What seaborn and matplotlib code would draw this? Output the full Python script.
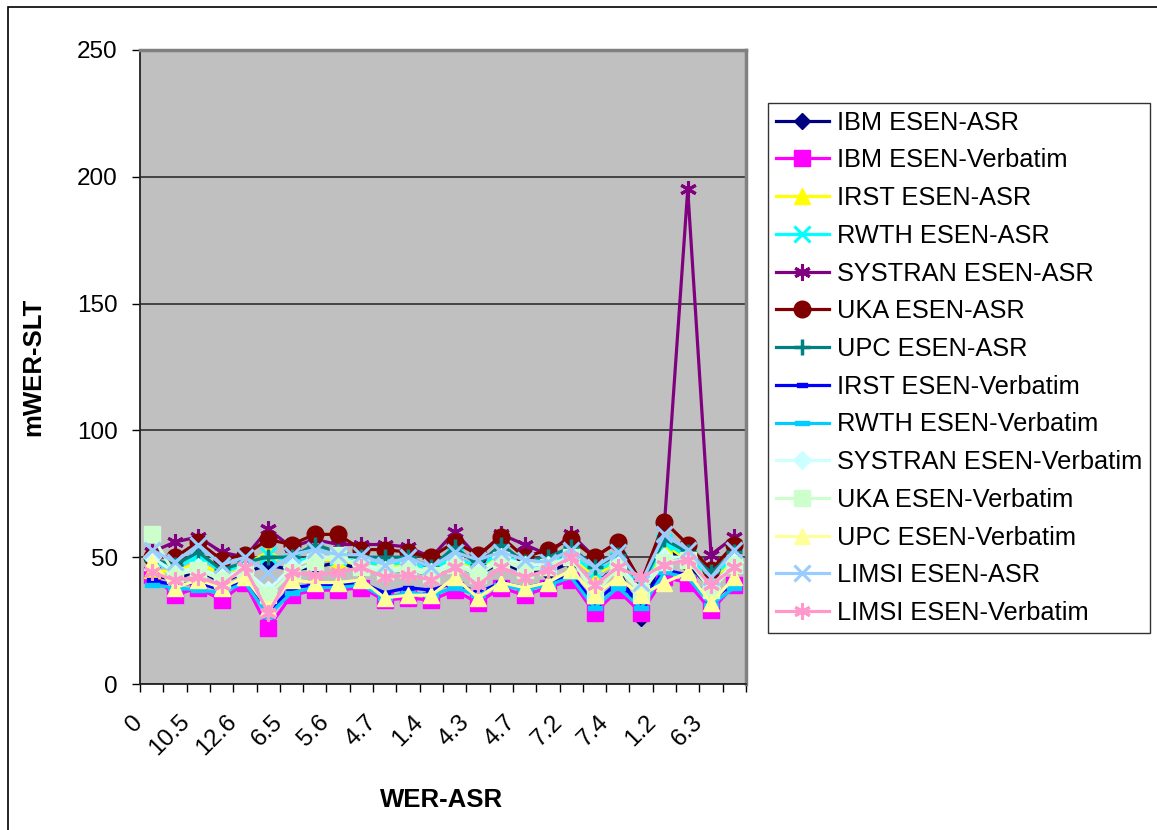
import numpy as np
import pandas as pd
import matplotlib
matplotlib.use("Agg")
import matplotlib.pyplot as plt
import matplotlib.transforms as mtransforms
from matplotlib.path import Path
from matplotlib.patches import Rectangle
import seaborn as sns

plt.rcParams['font.family'] = ['Liberation Sans', 'DejaVu Sans']

# ---------------- data ----------------
tick_labels = ["0", "10.5", "12.6", "6.5", "5.6", "4.7", "1.4", "4.3", "4.7", "7.2", "7.4", "1.2", "6.3"]
n_points = 26

series_names = [
    "IBM ESEN-ASR", "IBM ESEN-Verbatim", "IRST ESEN-ASR", "RWTH ESEN-ASR",
    "SYSTRAN ESEN-ASR", "UKA ESEN-ASR", "UPC ESEN-ASR", "IRST ESEN-Verbatim",
    "RWTH ESEN-Verbatim", "SYSTRAN ESEN-Verbatim", "UKA ESEN-Verbatim",
    "UPC ESEN-Verbatim", "LIMSI ESEN-ASR", "LIMSI ESEN-Verbatim",
]

ibm_asr      = [43, 41, 45, 40, 44, 47, 45, 46, 48, 45, 44, 45, 43, 47, 43, 48, 44, 44, 48, 40, 46, 26, 54, 47, 38, 47]
ibm_verb     = [43, 35, 38, 33, 40, 22, 35, 37, 37, 38, 33, 34, 33, 37, 32, 38, 35, 38, 41, 28, 37, 28, 42, 40, 29, 39]
irst_asr     = [45, 44, 48, 43, 47, 52, 47, 49, 49, 47, 46, 47, 44, 49, 45, 51, 45, 46, 50, 43, 48, 36, 55, 49, 41, 49]
rwth_asr     = [48, 45, 51, 44, 47, 51, 48, 50, 50, 48, 47, 48, 45, 50, 46, 52, 46, 47, 51, 44, 49, 37, 56, 50, 42, 50]
systran_asr  = [52, 56, 58, 52, 50, 61, 54, 57, 55, 55, 55, 54, 50, 60, 50, 59, 55, 51, 59, 50, 56, 40, 63, 195, 51, 58]
uka_asr      = [50, 50, 56, 49, 51, 57, 55, 59, 59, 53, 53, 52, 50, 56, 51, 58, 50, 53, 57, 50, 56, 40, 64, 55, 45, 55]
upc_asr      = [49, 47, 52, 45, 48, 50, 50, 55, 52, 50, 50, 50, 46, 54, 47, 55, 48, 50, 54, 46, 51, 39, 57, 52, 44, 52]
irst_verb    = [41, 39, 40, 37, 41, 28, 38, 39, 39, 40, 36, 38, 37, 40, 36, 40, 38, 40, 43, 32, 40, 32, 45, 43, 33, 40]
rwth_verb    = [39, 38, 37, 36, 40, 27, 36, 38, 38, 39, 34, 36, 35, 38, 35, 39, 37, 39, 42, 30, 38, 30, 44, 42, 31, 38]
systran_verb = [50, 44, 46, 42, 45, 37, 46, 50, 50, 47, 45, 46, 44, 48, 44, 50, 47, 47, 50, 38, 47, 37, 50, 50, 38, 48]
uka_verb     = [59, 43, 45, 41, 44, 35, 44, 48, 51, 46, 44, 45, 43, 47, 43, 49, 45, 46, 50, 35, 46, 36, 48, 49, 37, 47]
upc_verb     = [48, 38, 41, 38, 42, 30, 41, 40, 40, 41, 34, 35, 35, 42, 34, 40, 38, 40, 45, 35, 42, 35, 40, 44, 32, 42]
limsi_asr    = [53, 48, 55, 47, 50, 44, 51, 53, 51, 51, 47, 50, 46, 52, 49, 52, 49, 48, 53, 46, 52, 40, 59, 53, 42, 53]
limsi_verb   = [44, 41, 42, 39, 46, 28, 44, 43, 44, 46, 42, 43, 41, 46, 39, 46, 42, 45, 50, 39, 46, 42, 47, 49, 39, 46]

values = [ibm_asr, ibm_verb, irst_asr, rwth_asr, systran_asr, uka_asr, upc_asr,
          irst_verb, rwth_verb, systran_verb, uka_verb, upc_verb, limsi_asr, limsi_verb]

# ---------------- styles ----------------
bar_small = Path([(-1, -0.35), (1, -0.35), (1, 0.35), (-1, 0.35), (-1, -0.35)])
colors = ["#000080", "#FF00FF", "#FFFF00", "#00FFFF", "#800080", "#800000", "#008080",
          "#0000FF", "#00CCFF", "#CCFFFF", "#CCFFCC", "#FFFF99", "#99CCFF", "#FF99CC"]
markers = ["D", "s", "^", "x", (6, 2, 0), "o", "+", bar_small, bar_small, "D", "s", "^", "x", (6, 2, 0)]
msizes = [8, 11, 11, 11, 12, 12, 12, 7, 10, 9, 11, 11, 11, 12]
mews = [1, 1, 1, 2.2, 2.2, 1, 2.5, 1, 1, 1, 1, 1, 2.2, 2.2]

rows = []
for name, vals in zip(series_names, values):
    for i, v in enumerate(vals):
        rows.append({"series": name, "idx": i, "val": v})
df = pd.DataFrame(rows)

fig = plt.figure(figsize=(11.57, 8.30), dpi=100)
W, H = 1157, 830
ax = fig.add_axes([140 / W, 146 / H, 606 / W, 634 / H])
ax.set_facecolor("#C0C0C0")

for k, name in enumerate(series_names):
    sub = df[df["series"] == name]
    sns.lineplot(data=sub, x="idx", y="val", ax=ax, color=colors[k], lw=2.3,
                 marker=markers[k], markersize=msizes[k], mec=colors[k], mfc=colors[k],
                 mew=mews[k], label=name, zorder=3 + k, legend=False)

ax.set_xlim(-0.5, n_points - 0.5)
ax.set_ylim(0, 250)
ax.set_yticks(np.arange(0, 251, 50))
ax.yaxis.grid(True, color="#3a3a3a", lw=1.3)
ax.xaxis.grid(False)
ax.set_axisbelow(True)

ax.set_xticks(np.arange(0, n_points, 2))
ax.set_xticklabels(tick_labels, rotation=45, ha="right", va="center", rotation_mode="anchor")
ax.set_xticks(np.arange(-0.5, n_points, 1), minor=True)
ax.tick_params(axis="x", which="major", length=0, pad=25, labelsize=17.5)
ax.tick_params(axis="x", which="minor", length=6, width=1, direction="out", color="black")
ax.tick_params(axis="y", length=6, width=1, direction="out", pad=10, labelsize=17.5)

shift = mtransforms.ScaledTranslation(-12 / 100, 0, fig.dpi_scale_trans)
for lab in ax.get_xticklabels():
    lab.set_transform(lab.get_transform() + shift)

for s in ["left", "bottom"]:
    ax.spines[s].set_color("#222222")
    ax.spines[s].set_linewidth(1.3)
for s in ["top", "right"]:
    ax.spines[s].set_color("#808080")
    ax.spines[s].set_linewidth(2.5)

ax.set_xlabel("WER-ASR", fontsize=18.5, fontweight="bold")
ax.xaxis.set_label_coords((442 - 140) / 606, -(788 - 684) / 634)
ax.set_ylabel("mWER-SLT", fontsize=18.5, fontweight="bold")
ax.yaxis.set_label_coords(-(140 - 45) / 606, (684 - 367) / 634)

handles, labels = ax.get_legend_handles_labels()
leg = fig.legend(handles, labels, loc="upper left", bbox_to_anchor=(768 / W, 1 - 103 / H),
                 bbox_transform=fig.transFigure, frameon=True, fancybox=False, shadow=False,
                 fontsize=18.3, handlelength=2.1, handletextpad=0.3, labelspacing=0.54,
                 borderpad=0.3, borderaxespad=0, edgecolor="black", facecolor="white")
leg.get_frame().set_linewidth(1.0)

fig.patches.append(Rectangle((8 / W, -0.05), 1.2, 1.05 - 7 / H,
                             transform=fig.transFigure, fill=False, edgecolor="black", lw=1.2))

fig.savefig("out.png", dpi=100)
